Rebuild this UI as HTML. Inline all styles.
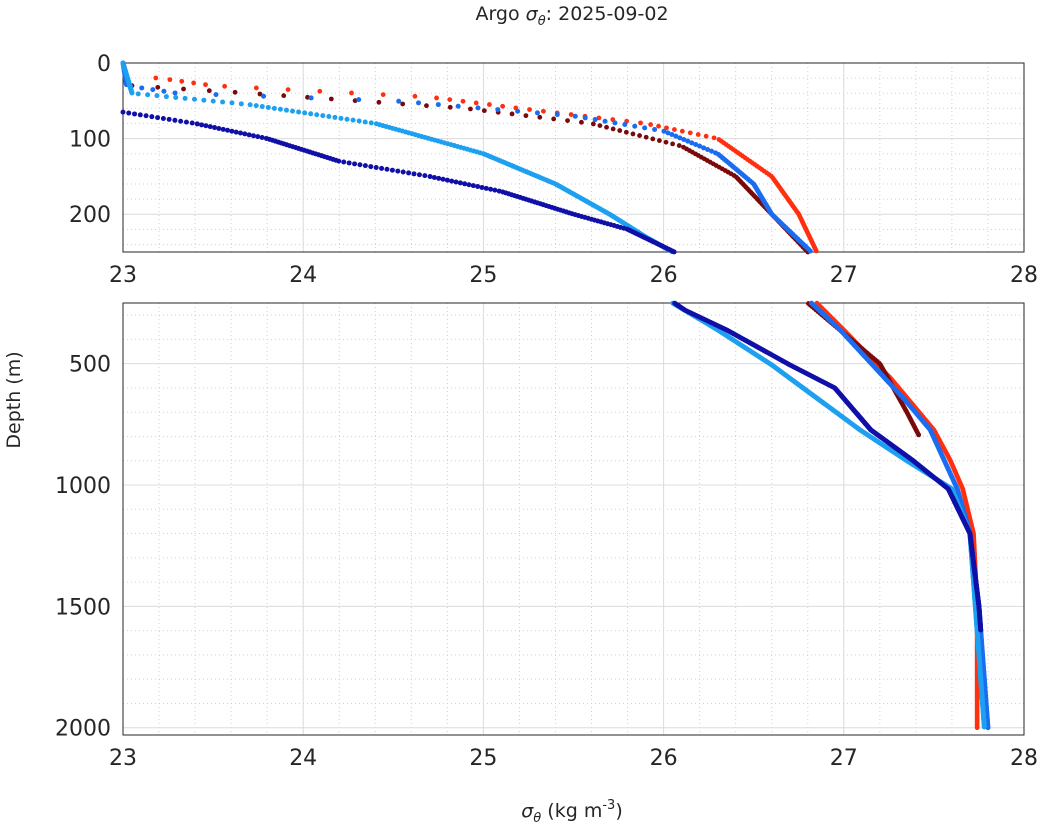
<!DOCTYPE html>
<html><head><meta charset="utf-8"><style>
html,body{margin:0;padding:0;background:#fff;width:1044px;height:835px;overflow:hidden}
svg text{font-family:"DejaVu Sans","Liberation Sans",sans-serif;fill:#262626}
</style></head><body>
<svg id="s" width="1044" height="835" xmlns="http://www.w3.org/2000/svg">
<text x="572" y="20" font-size="19" text-anchor="middle">Argo <tspan font-style="italic">σ</tspan><tspan font-style="italic" font-size="13" dy="5">θ</tspan><tspan dy="-5">: 2025-09-02</tspan></text>
<text x="572" y="817" font-size="19" text-anchor="middle"><tspan font-style="italic">σ</tspan><tspan font-style="italic" font-size="13" dy="5">θ</tspan><tspan dy="-5"> (kg m</tspan><tspan font-size="13" dy="-8">-3</tspan><tspan dy="8">)</tspan></text>
<text transform="translate(20,400) rotate(-90)" font-size="19" text-anchor="middle">Depth (m)</text>
<g id="g"></g>
</svg>
<script>
const NS="http://www.w3.org/2000/svg",g=document.getElementById('g');
function el(t,a){const e=document.createElementNS(NS,t);for(const k in a)e.setAttribute(k,a[k]);g.appendChild(e);return e;}
const X0=123,X1=1024,sx=(v)=>X0+(v-23)*(X1-X0)/5;
const T={y0:63,y1:252,d0:0,d1:250},B={y0:303,y1:735,d0:250,d1:2030};
const ty=d=>T.y0+(d-T.d0)*(T.y1-T.y0)/(T.d1-T.d0);
const by=d=>B.y0+(d-B.d0)*(B.y1-B.y0)/(B.d1-B.d0);
function axes(P,fy,yt,ymin){
 for(let v=23;v<=28.001;v+=0.2){const x=sx(v);el('line',{x1:x,x2:x,y1:P.y0,y2:P.y1,stroke:'#d0d0d0','stroke-dasharray':'1,3','stroke-width':1});}
 for(const d of ymin){const y=fy(d);el('line',{x1:X0,x2:X1,y1:y,y2:y,stroke:'#d0d0d0','stroke-dasharray':'1,3'});}
 for(let v=23;v<=28;v++){const x=sx(v);el('line',{x1:x,x2:x,y1:P.y0,y2:P.y1,stroke:'#dcdcdc'});
  const t=el('text',{x:x,y:P.y1+30,'font-size':22,'text-anchor':'middle'});t.textContent=v;}
 for(const d of yt){const y=fy(d);el('line',{x1:X0,x2:X1,y1:y,y2:y,stroke:'#dcdcdc'});
  const t=el('text',{x:X0-12,y:y+8,'font-size':22,'text-anchor':'end'});t.textContent=d;}
 el('rect',{x:X0,y:P.y0,width:X1-X0,height:P.y1-P.y0,fill:'none',stroke:'#262626','stroke-width':1});
}
let tm=[];for(let d=20;d<250;d+=20)if(d%100)tm.push(d);
axes(T,ty,[0,100,200],tm);
let bm=[];for(let d=300;d<2030;d+=100)if(d%500)bm.push(d);
axes(B,by,[500,1000,1500,2000],bm);
function interp(pts,d){for(let i=0;i<pts.length-1;i++){if(d>=pts[i][0]&&d<=pts[i+1][0]){const f=(d-pts[i][0])/(pts[i+1][0]-pts[i][0]);return pts[i][1]+f*(pts[i+1][1]-pts[i][1]);}}return null;}
function series(pts,col,step,r){const d0=pts[0][0],d1=pts[pts.length-1][0];
 for(let d=d0;d<=d1;d+=(d<250?step:step*3)){const v=interp(pts,d);if(v==null)continue;
  if(d<=250)el('circle',{cx:sx(v),cy:ty(d),r:r,fill:col});
  if(d>=250)el('circle',{cx:sx(v),cy:by(d),r:r,fill:col});}}
series([[0,23],[18,23.02],[20,23.2],[30,23.5],[45,24.7],[60,25.2],[80,25.9],[100,26.3],[150,26.6],[200,26.75],[250,26.85],[361,27.0],[560,27.26],[773,27.5],[897,27.59],[1016,27.66],[1200,27.72],[1500,27.74],[2000,27.74]],'#ff3010',2.2,2.4);
series([[30,23.05],[40,23.7],[50,24.3],[60,24.9],[80,25.6],[110,26.1],[150,26.4],[200,26.6],[250,26.8],[500,27.2],[700,27.35],[800,27.42]],'#7a0a0a',2.2,2.4);
series([[0,23],[30,23.02],[40,23.3],[50,24.5],[70,25.5],[90,26.0],[120,26.3],[160,26.5],[200,26.6],[250,26.82],[361,26.98],[650,27.34],[773,27.48],[1016,27.63],[1200,27.7],[1500,27.75],[2000,27.8]],'#1a6cf0',2.2,2.5);
series([[0,23],[40,23.05],[55,23.7],[80,24.4],[120,25.0],[160,25.4],[200,25.7],[230,25.9],[250,26.05],[361,26.3],[505,26.6],[773,27.09],[900,27.35],[1016,27.6],[1200,27.7],[2000,27.78]],'#1ea0f0',1.2,2.5);
series([[65,23],[80,23.4],[100,23.8],[130,24.2],[150,24.7],[170,25.1],[200,25.5],[220,25.8],[250,26.06],[280,26.12],[361,26.35],[505,26.7],[600,26.95],[773,27.15],[897,27.38],[1016,27.58],[1200,27.7],[1500,27.75],[1600,27.76]],'#1010a8',1.2,2.5);
</script>
</body></html>
